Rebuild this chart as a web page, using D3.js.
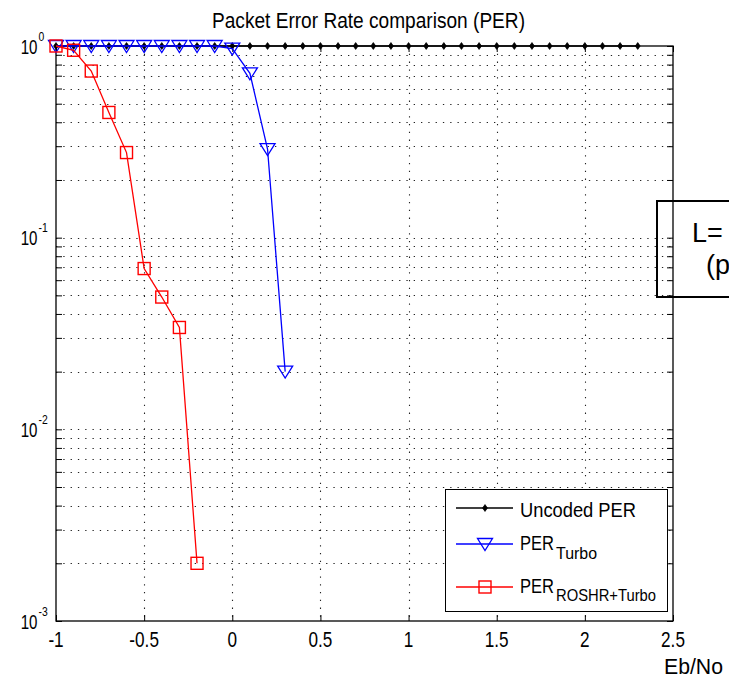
<!DOCTYPE html>
<html>
<head>
<meta charset="utf-8">
<script src="https://cdn.jsdelivr.net/npm/d3@7/dist/d3.min.js"></script>
<style>
  html, body { margin: 0; padding: 0; background: #fff; overflow: hidden; }
  svg { display: block; }
  text { font-family: "Liberation Sans", Arial, Helvetica, sans-serif; fill: #000; }
</style>
</head>
<body>
<svg id="chart" width="729" height="679"></svg>
<script>
// Eb/No points (dB) and packet error rates for each scheme
const ebnoUncoded = [-1, -0.9, -0.8, -0.7, -0.6, -0.5, -0.4, -0.3, -0.2, -0.1, 0, 0.1, 0.2, 0.3, 0.4, 0.5, 0.6,
                     0.7, 0.8, 0.9, 1, 1.1, 1.2, 1.3, 1.4, 1.5, 1.6, 1.7, 1.8, 1.9, 2, 2.1, 2.2, 2.3];
const perUncoded  = [1, 1, 1, 1, 1, 1, 1, 1, 1, 1, 1, 1, 1, 1, 1, 1, 1,
                     1, 1, 1, 1, 1, 1, 1, 1, 1, 1, 1, 1, 1, 1, 1, 1, 1];

const ebnoTurbo = [-1, -0.9, -0.8, -0.7, -0.6, -0.5, -0.4, -0.3, -0.2, -0.1, 0, 0.1, 0.2, 0.3];
const perTurbo  = [1, 1, 1, 1, 1, 1, 1, 1, 1, 1, 0.97, 0.72, 0.29, 0.02];

const ebnoRoshr = [-1, -0.9, -0.8, -0.7, -0.6, -0.5, -0.4, -0.3, -0.2];
const perRoshr  = [1, 0.95, 0.74, 0.45, 0.278, 0.069, 0.049, 0.034, 0.002];

// Axis ticks
const xTicks = [-1, -0.5, 0, 0.5, 1, 1.5, 2, 2.5];
const xTickLabels = ["-1", "-0.5", "0", "0.5", "1", "1.5", "2", "2.5"];
const yDecades = [1, 0.1, 0.01, 0.001];
const yDecadeExponents = ["0", "-1", "-2", "-3"];

const titleText = "Packet Error Rate comparison (PER)";
const xAxisTitle = "Eb/No";
const legendNames = ["Uncoded PER", "PER", "PER"];
const legendSubs = ["", "Turbo", "ROSHR+Turbo"];
const noteLines = ["L=", "(p"];

const svg = d3.select("#chart");
const box = { left: 56, right: 673, top: 46, bottom: 621 };

const x = d3.scaleLinear().domain([-1, 2.5]).range([box.left, box.right]);
const y = d3.scaleLog().domain([0.001, 1]).range([box.bottom, box.top]);

svg.append("rect").attr("width", 729).attr("height", 679).attr("fill", "#fff");

// Dotted grid
const yGrid = y.ticks().filter(v => v > 0.001 && v < 1);
const grid = svg.append("g").attr("stroke", "#222").attr("stroke-width", 1.1).attr("fill", "none");
grid.selectAll("line.h").data(yGrid).join("line")
  .attr("class", "h")
  .attr("x1", box.left).attr("x2", box.right)
  .attr("y1", d => Math.round(y(d)) + 0.5).attr("y2", d => Math.round(y(d)) + 0.5)
  .attr("stroke-dasharray", "1.3,6");
grid.selectAll("line.v").data(xTicks.slice(1, -1)).join("line")
  .attr("class", "v")
  .attr("x1", d => Math.round(x(d)) + 0.5).attr("x2", d => Math.round(x(d)) + 0.5)
  .attr("y1", box.top).attr("y2", box.bottom)
  .attr("stroke-dasharray", "1.3,6.5");

// Inward ticks on all four sides
const tickLen = 6;
const axisG = svg.append("g").attr("stroke", "#000").attr("stroke-width", 1);
const bottomAxis = d3.axisBottom(x).tickValues(xTicks).tickSize(-tickLen).tickFormat("");
const topAxis = d3.axisTop(x).tickValues(xTicks).tickSize(-tickLen).tickFormat("");
const leftAxis = d3.axisLeft(y).tickValues(y.ticks()).tickSize(-tickLen).tickFormat("");
const rightAxis = d3.axisRight(y).tickValues(y.ticks()).tickSize(-tickLen).tickFormat("");
[[bottomAxis, `translate(0,${box.bottom})`], [topAxis, `translate(0,${box.top})`],
 [leftAxis, `translate(${box.left},0)`], [rightAxis, `translate(${box.right},0)`]].forEach(([ax, tr]) => {
  const g = axisG.append("g").attr("transform", tr).call(ax);
  g.select(".domain").remove();
  g.selectAll(".tick line").attr("stroke", "#000");
});

// Axes frame
svg.append("rect")
  .attr("x", box.left).attr("y", box.top)
  .attr("width", box.right - box.left).attr("height", box.bottom - box.top)
  .attr("fill", "none").attr("stroke", "#000").attr("stroke-width", 1.3);

// Horizontally condensed text helper
function condensed(parent, str, px, py, size, sx, anchor) {
  return parent.append("text")
    .attr("transform", `translate(${px},${py}) scale(${sx},1)`)
    .attr("text-anchor", anchor || "start")
    .attr("font-size", size)
    .text(str);
}

// X tick labels
xTicks.forEach((t, i) => condensed(svg, xTickLabels[i], x(t), 647, 22, 0.78, "middle"));

// Y tick labels 10^k
yDecades.forEach((v, i) => {
  const yy = y(v);
  condensed(svg, "10", 37.5, yy + 7.5, 21, 0.72, "end");
  condensed(svg, yDecadeExponents[i], 38.5, yy - 5.5, 13, 0.8, "start");
});

// Title and x-axis name
svg.append("text").attr("x", 368.5).attr("y", 28).attr("text-anchor", "middle")
  .attr("font-size", 22).attr("textLength", 313).attr("lengthAdjust", "spacingAndGlyphs")
  .text(titleText);
svg.append("text").attr("x", 664).attr("y", 674).attr("font-size", 22)
  .attr("textLength", 59).attr("lengthAdjust", "spacingAndGlyphs").text(xAxisTitle);

// Series
const seriesDefs = [
  { xs: ebnoUncoded, ys: perUncoded, color: "#000", width: 1.6, marker: "dot" },
  { xs: ebnoTurbo, ys: perTurbo, color: "#0000ff", width: 1.3, marker: "tri" },
  { xs: ebnoRoshr, ys: perRoshr, color: "#ff0000", width: 1.3, marker: "sq" }
];
const line = d3.line().x(d => x(d[0])).y(d => y(d[1]));

function drawMarker(g, kind, color) {
  if (kind === "dot") {
    g.append("path").attr("d", "M0,-3.4L2.4,0L0,3.4L-2.4,0Z").attr("fill", color).attr("stroke", color).attr("stroke-width", 0.8);
  } else if (kind === "tri") {
    g.append("path").attr("d", "M-7.5,-5.5L7.5,-5.5L0,6.5Z").attr("fill", "none").attr("stroke", color).attr("stroke-width", 1.3);
  } else {
    g.append("rect").attr("x", -6).attr("y", -6).attr("width", 12).attr("height", 12)
      .attr("fill", "none").attr("stroke", color).attr("stroke-width", 1.4);
  }
}

seriesDefs.forEach(s => {
  const pts = s.xs.map((v, i) => [v, s.ys[i]]);
  svg.append("path").datum(pts).attr("d", line)
    .attr("fill", "none").attr("stroke", s.color).attr("stroke-width", s.width);
  pts.forEach(p => {
    const g = svg.append("g").attr("transform", `translate(${x(p[0])},${y(p[1])})`);
    drawMarker(g, s.marker, s.color);
  });
});

// Legend
const leg = svg.append("g");
leg.append("rect").attr("x", 445.5).attr("y", 489.5).attr("width", 222).attr("height", 122)
  .attr("fill", "#fff").attr("stroke", "#000").attr("stroke-width", 1);
const rowY = [508, 544, 587];
seriesDefs.forEach((s, i) => {
  leg.append("line").attr("x1", 456).attr("x2", 513).attr("y1", rowY[i]).attr("y2", rowY[i])
    .attr("stroke", s.color).attr("stroke-width", s.width);
  drawMarker(leg.append("g").attr("transform", `translate(485,${rowY[i]})`), s.marker, s.color);
});
leg.append("text").attr("x", 520).attr("y", 516.5).attr("font-size", 21)
  .attr("textLength", 116).attr("lengthAdjust", "spacingAndGlyphs").text(legendNames[0]);
[[1, 549.5, 558.5, 41], [2, 592.5, 600.5, 100]].forEach(([i, by, sy, sw]) => {
  leg.append("text").attr("x", 520).attr("y", by).attr("font-size", 21)
    .attr("textLength", 34).attr("lengthAdjust", "spacingAndGlyphs").text(legendNames[i]);
  leg.append("text").attr("x", 556).attr("y", sy).attr("font-size", 17)
    .attr("textLength", sw).attr("lengthAdjust", "spacingAndGlyphs").text(legendSubs[i]);
});

// Annotation box at the right edge
svg.append("rect").attr("x", 657).attr("y", 201).attr("width", 120).attr("height", 96)
  .attr("fill", "none").attr("stroke", "#000").attr("stroke-width", 2);
svg.append("text").attr("x", 692).attr("y", 242).attr("font-size", 27).text(noteLines[0]);
svg.append("text").attr("x", 706).attr("y", 274).attr("font-size", 27).text(noteLines[1]);
</script>
</body>
</html>
